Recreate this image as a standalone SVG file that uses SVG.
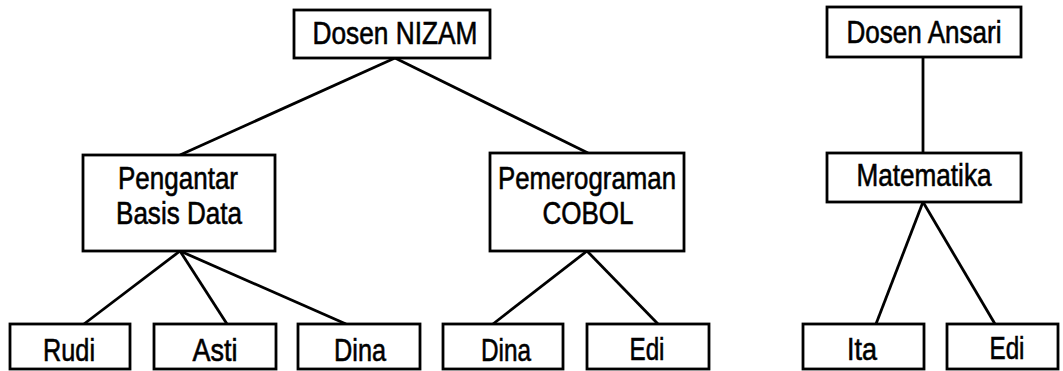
<svg xmlns="http://www.w3.org/2000/svg" width="1063" height="371" viewBox="0 0 1063 371">
<style>
rect{fill:#fff;stroke:#000;stroke-width:2.8}
line{stroke:#000;stroke-width:2.8}
text{font-family:"Liberation Sans",Arial,sans-serif;font-size:32px;fill:#000;stroke:#000;stroke-width:0.6;text-anchor:middle}
</style>
<rect x="0" y="0" width="1063" height="371" style="stroke:none"/>
<g id="connectors">
<line x1="395" y1="58" x2="180" y2="155"/>
<line x1="395" y1="58" x2="588" y2="153"/>
<line x1="180" y1="251" x2="84" y2="324"/>
<line x1="180" y1="251" x2="227" y2="324"/>
<line x1="180" y1="251" x2="346" y2="324"/>
<line x1="587" y1="251" x2="493" y2="324"/>
<line x1="587" y1="251" x2="658" y2="324"/>
<line x1="923" y1="57" x2="923" y2="153"/>
<line x1="923" y1="202" x2="876" y2="324"/>
<line x1="923" y1="202" x2="995" y2="324"/>
</g>
<g id="dosen-nizam"><rect x="294" y="10" width="196" height="48"/><text x="395" y="44" textLength="165" lengthAdjust="spacingAndGlyphs">Dosen NIZAM</text></g>
<g id="pengantar"><rect x="83" y="155" width="192" height="96"/><text x="178" y="189" textLength="120" lengthAdjust="spacingAndGlyphs">Pengantar</text><text x="179" y="224" textLength="126" lengthAdjust="spacingAndGlyphs">Basis Data</text></g>
<g id="pemerograman"><rect x="490" y="153" width="194" height="98"/><text x="587" y="189" textLength="178" lengthAdjust="spacingAndGlyphs">Pemerograman</text><text x="588" y="224" textLength="91" lengthAdjust="spacingAndGlyphs">COBOL</text></g>
<g id="rudi"><rect x="10" y="324" width="120" height="45"/><text x="69" y="361" textLength="52" lengthAdjust="spacingAndGlyphs">Rudi</text></g>
<g id="asti"><rect x="154" y="324" width="122" height="45"/><text x="215" y="361" textLength="45" lengthAdjust="spacingAndGlyphs">Asti</text></g>
<g id="dina1"><rect x="298" y="324" width="122" height="45"/><text x="360" y="361" textLength="52" lengthAdjust="spacingAndGlyphs">Dina</text></g>
<g id="dina2"><rect x="443" y="324" width="120" height="45"/><text x="506" y="361" textLength="50" lengthAdjust="spacingAndGlyphs">Dina</text></g>
<g id="edi1"><rect x="587" y="324" width="122" height="45"/><text x="647" y="360" textLength="35" lengthAdjust="spacingAndGlyphs">Edi</text></g>
<g id="dosen-ansari"><rect x="827" y="7" width="194" height="50"/><text x="924" y="43" textLength="155" lengthAdjust="spacingAndGlyphs">Dosen Ansari</text></g>
<g id="matematika"><rect x="827" y="153" width="194" height="49"/><text x="924" y="186" textLength="135" lengthAdjust="spacingAndGlyphs">Matematika</text></g>
<g id="ita"><rect x="803" y="324" width="121" height="45"/><text x="862" y="360" textLength="30" lengthAdjust="spacingAndGlyphs">Ita</text></g>
<g id="edi2"><rect x="947" y="324" width="111" height="45"/><text x="1007" y="359" textLength="35" lengthAdjust="spacingAndGlyphs">Edi</text></g>
</svg>
